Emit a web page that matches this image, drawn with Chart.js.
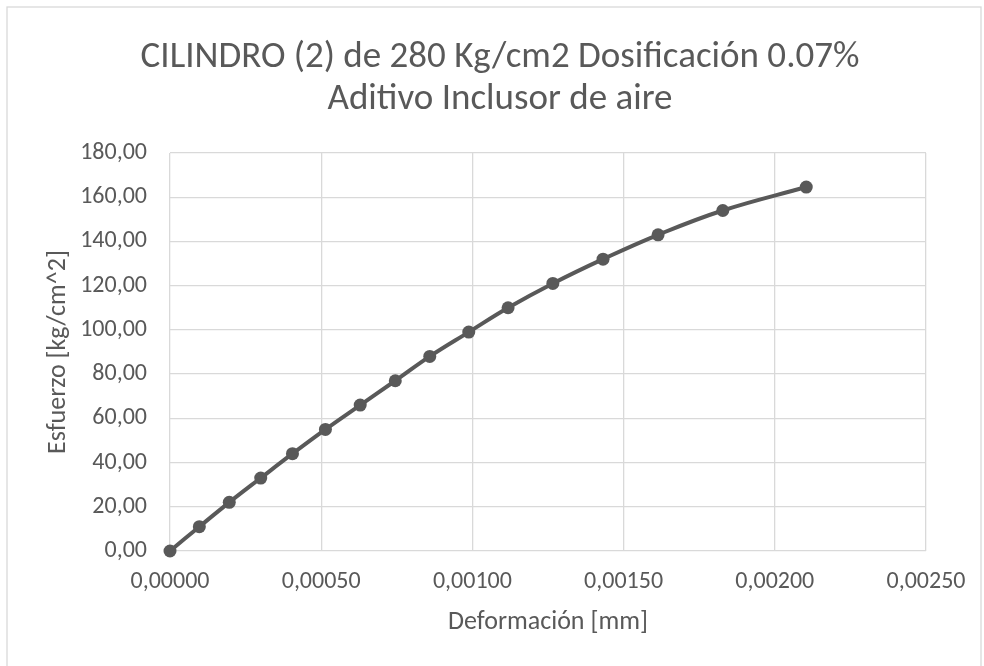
<!DOCTYPE html>
<html>
<head>
<meta charset="utf-8">
<script src="https://cdn.jsdelivr.net/npm/chart.js@4"></script>
<style>
  html, body { margin: 0; padding: 0; background: #ffffff; }
  #wrap { position: relative; width: 984px; height: 666px; }
</style>
</head>
<body>
<div id="wrap"><canvas id="c" width="984" height="666"></canvas></div>
<script>
// ---- data ----
const titleLines = ['CILINDRO (2) de 280 Kg/cm2 Dosificación 0.07%', 'Aditivo Inclusor de aire'];
const xAxisTitle = 'Deformación [mm]';
const yAxisTitle = 'Esfuerzo [kg/cm^2]';
const strain = [0, 0.000097, 0.000196, 0.000300, 0.000405, 0.000514, 0.000629, 0.000745, 0.000859, 0.000988, 0.001118, 0.001266, 0.001432, 0.001614, 0.001828, 0.002104];
const stress = [0, 11, 22, 33, 44, 55, 66, 77, 88, 99, 110, 121, 132, 143, 154, 164.6];
const xTicks = [0, 0.0005, 0.001, 0.0015, 0.002, 0.0025];
const yTicks = [0, 20, 40, 60, 80, 100, 120, 140, 160, 180];

const FONT = 'Carlito, Lato, "Liberation Sans", sans-serif';
const TXT = '#595959';
const GRID = '#d9d9d9';

const points = strain.map((x, i) => ({ x: x, y: stress[i] }));

const borderPlugin = {
  id: 'outerBorder',
  beforeDraw(chart) {
    const ctx = chart.ctx;
    ctx.save();
    ctx.fillStyle = '#ffffff';
    ctx.fillRect(0, 0, chart.width, chart.height);
    ctx.strokeStyle = GRID;
    ctx.lineWidth = 1.3;
    ctx.strokeRect(7, 7, chart.width - 10, chart.height + 20);
    ctx.restore();
  }
};

new Chart(document.getElementById('c'), {
  type: 'scatter',
  data: {
    datasets: [{
      data: points,
      showLine: true,
      tension: 0.4,
      clip: false,
      borderColor: '#595959',
      backgroundColor: '#595959',
      borderWidth: 4,
      pointRadius: 6.5,
      pointHoverRadius: 6.5,
      pointBorderWidth: 0
    }]
  },
  options: {
    responsive: false,
    animation: false,
    devicePixelRatio: 1,
    layout: { padding: { left: 16, right: 0, top: 0, bottom: 0 } },
    plugins: {
      legend: { display: false },
      tooltip: { enabled: false },
      title: {
        display: true,
        text: titleLines,
        color: TXT,
        font: { family: FONT, size: 37, weight: 'normal', lineHeight: 1.135 },
        padding: { top: 37, bottom: 32 }
      }
    },
    scales: {
      x: {
        type: 'linear',
        min: 0,
        max: 0.0025,
        afterBuildTicks(scale) { scale.ticks = xTicks.map(v => ({ value: v })); },
        afterFit(scale) { scale.height = 115; },
        border: { display: false },
        grid: { color: GRID, lineWidth: 1.3, drawTicks: false },
        ticks: {
          color: TXT,
          padding: 17,
          font: { family: FONT, size: 24, lineHeight: 1.2 },
          maxRotation: 0,
          callback: v => v.toFixed(5).replace('.', ',')
        },
        title: {
          display: true,
          text: xAxisTitle,
          color: TXT,
          font: { family: FONT, size: 26, lineHeight: 1.2 },
          padding: { top: 28, bottom: 28 }
        }
      },
      y: {
        type: 'linear',
        min: 0,
        max: 180,
        afterBuildTicks(scale) { scale.ticks = yTicks.map(v => ({ value: v })); },
        afterFit(scale) { scale.width = 154; },
        border: { display: false },
        grid: { color: GRID, lineWidth: 1.3, drawTicks: false },
        ticks: {
          color: TXT,
          padding: 23,
          font: { family: FONT, size: 24, lineHeight: 1.2 },
          callback: v => v.toFixed(2).replace('.', ',')
        },
        title: {
          display: true,
          text: yAxisTitle,
          color: TXT,
          font: { family: FONT, size: 26, lineHeight: 1.2 },
          padding: { top: 26.4, bottom: 26.4 }
        }
      },
      rightSpace: {
        type: 'linear',
        position: 'right',
        display: true,
        afterFit(scale) { scale.width = 58; },
        border: { display: false },
        grid: { display: false },
        ticks: { display: false }
      }
    }
  },
  plugins: [borderPlugin]
});
</script>
</body>
</html>
